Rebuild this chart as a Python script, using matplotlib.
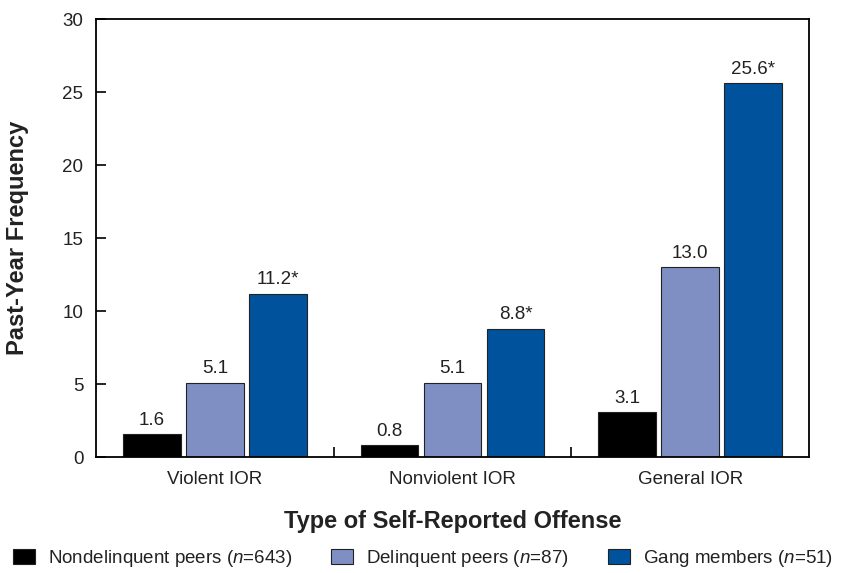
import numpy as np
import matplotlib
matplotlib.use("Agg")
import matplotlib.pyplot as plt
from matplotlib.patches import Patch

plt.rcParams["font.family"] = ["Liberation Sans", "DejaVu Sans"]
plt.rcParams["mathtext.fontset"] = "custom"
plt.rcParams["mathtext.rm"] = "Liberation Sans"
plt.rcParams["mathtext.it"] = "Liberation Sans:italic"

categories = ["Violent IOR", "Nonviolent IOR", "General IOR"]
series = ["Nondelinquent peers ($\\it{n}$=643)",
          "Delinquent peers ($\\it{n}$=87)",
          "Gang members ($\\it{n}$=51)"]
nondelinquent = [1.6, 0.8, 3.1]
delinquent = [5.1, 5.1, 13.0]
gang = [11.2, 8.8, 25.6]
value_labels = [["1.6", "0.8", "3.1"],
                ["5.1", "5.1", "13.0"],
                ["11.2*", "8.8*", "25.6*"]]
colors = ["#000000", "#7f8fc4", "#00529c"]

fs = 13.5
txt = "#222222"

fig = plt.figure(figsize=(8.45, 5.73), dpi=100)
ax = fig.add_axes([0.1136, 0.2024, 0.8438, 0.7644])

x = np.arange(len(categories))
width = 0.243
offsets = [-0.265, 0, 0.265]
for vals, off, col, labs in zip([nondelinquent, delinquent, gang], offsets, colors, value_labels):
    bars = ax.bar(x + off, vals, width, color=col, edgecolor="#222222", linewidth=0.8)
    for b, lab in zip(bars, labs):
        ax.text(b.get_x() + b.get_width() / 2, b.get_height() + 0.35, lab,
                ha="center", va="bottom", fontsize=fs, color=txt)

ax.set_xlim(-0.5, 2.5)
ax.set_ylim(0, 30)
ax.set_yticks([0, 5, 10, 15, 20, 25, 30])
ax.tick_params(axis="y", direction="in", length=7, width=1.2, labelsize=fs, pad=9)
for lbl in ax.get_yticklabels():
    lbl.set_color(txt)

# group separators on the x axis
ax.set_xticks([0.5, 1.5])
ax.set_xticklabels([])
ax.tick_params(axis="x", direction="in", length=7, width=1.2)
for i, c in enumerate(categories):
    ax.text(i, -0.95, c, ha="center", va="top", fontsize=fs, color=txt)

for s in ax.spines.values():
    s.set_linewidth(1.3)

ax.set_ylabel("Past-Year Frequency", fontsize=17, fontweight="bold", color=txt)
ax.yaxis.set_label_coords(-0.094, 0.5)
ax.text(1, -3.65, "Type of Self-Reported Offense", ha="center", va="top",
        fontsize=17, fontweight="bold", color=txt)

handles = [Patch(facecolor=c, edgecolor="#222222", linewidth=0.8) for c in colors]
fig.legend(handles, series, loc="center left", bbox_to_anchor=(0.015, 0.0253), ncol=3,
           frameon=False, fontsize=fs, handlelength=1.17, handleheight=0.9,
           handletextpad=0.7, columnspacing=2.1, borderpad=0, borderaxespad=0,
           labelcolor=txt)

fig.savefig("out.png", dpi=100)
